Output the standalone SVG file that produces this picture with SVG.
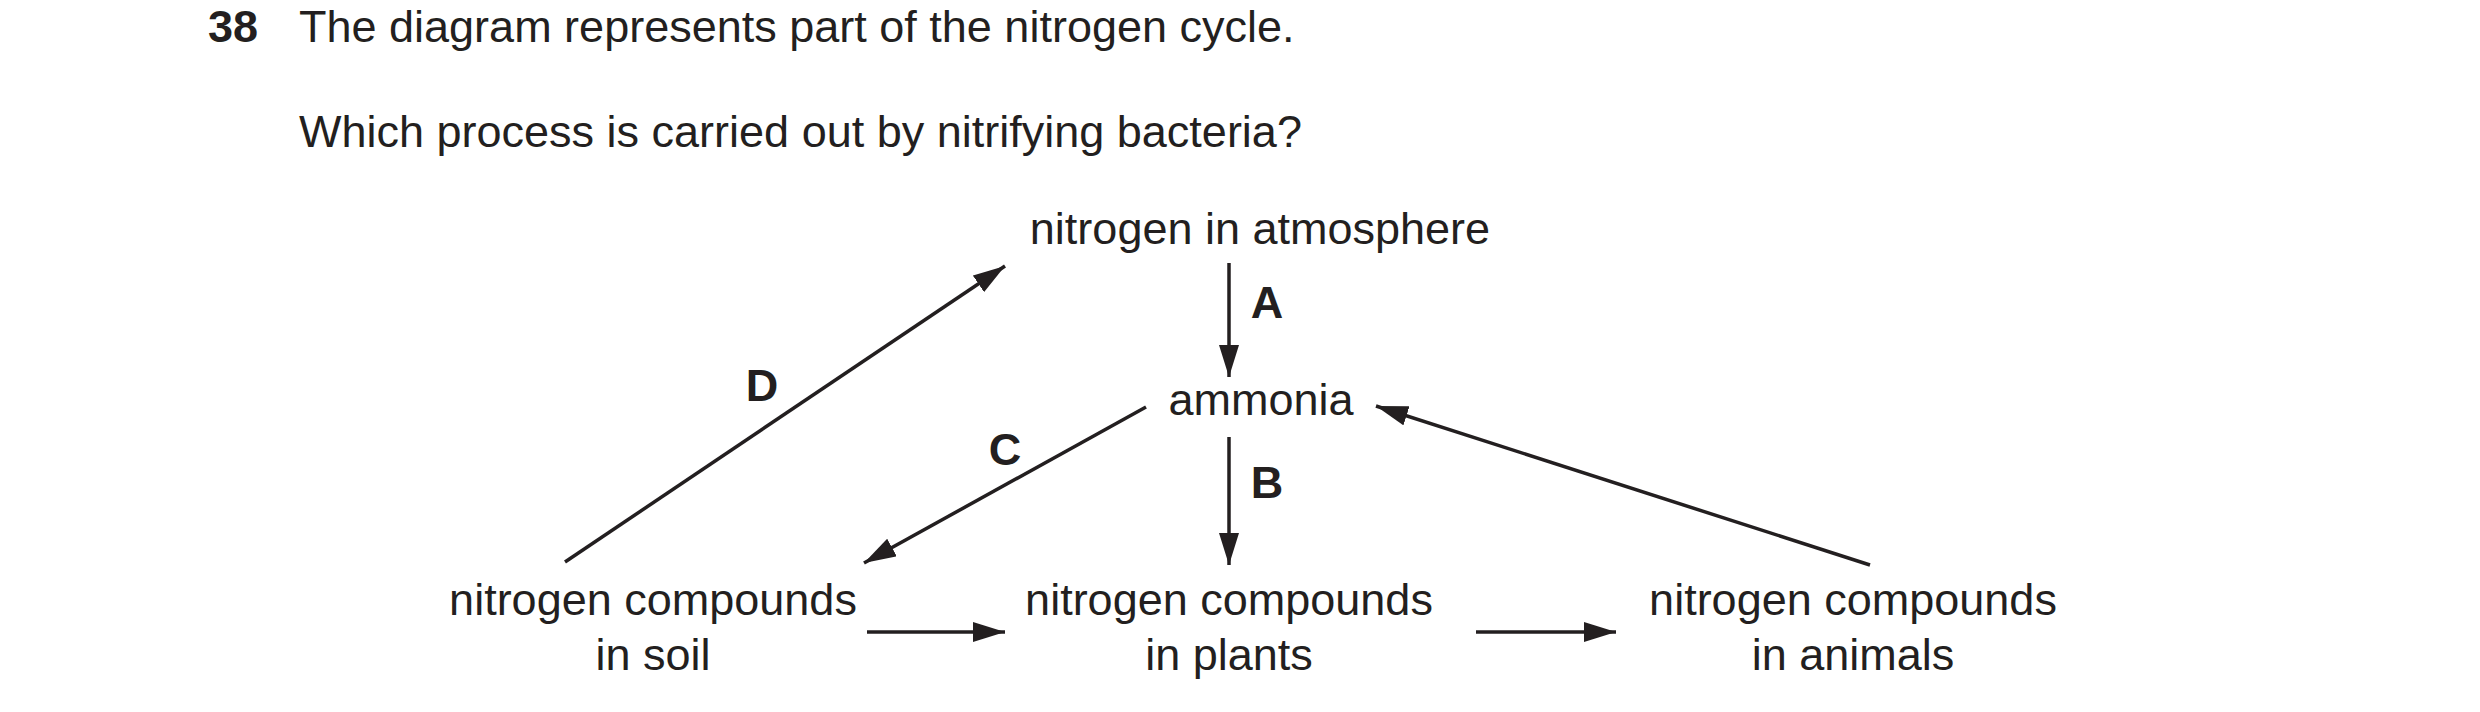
<svg xmlns="http://www.w3.org/2000/svg" width="2480" height="712" viewBox="0 0 2480 712">
<style>
text{font-family:"Liberation Sans",Arial,sans-serif;fill:#231f20;font-size:45px}
.c{text-anchor:middle}
.b{font-weight:bold}
.l{stroke:#231f20;stroke-width:3.5;fill:none}
</style>
<defs>
<marker id="ah" viewBox="0 0 10 10" refX="10" refY="5" markerWidth="9" markerHeight="9" markerUnits="userSpaceOnUse" orient="auto" overflow="visible">
<path d="M0,0 L10,5 L0,10 Z" fill="#231f20" transform="scale(3.2)"/>
</marker>
<marker id="ah2" viewBox="0 0 32 20" refX="32" refY="10" markerWidth="32" markerHeight="20" markerUnits="userSpaceOnUse" orient="auto">
<path d="M0,0 L32,10 L0,20 Z" fill="#231f20"/>
</marker>
</defs>
<text x="208" y="42" class="b">38</text>
<text x="299" y="42">The diagram represents part of the nitrogen cycle.</text>
<text x="299" y="147">Which process is carried out by nitrifying bacteria?</text>
<g id="atmosphere"><text x="1260" y="244" class="c">nitrogen in atmosphere</text></g>
<g id="ammonia"><text x="1261" y="415" class="c">ammonia</text></g>
<g id="soil"><text x="653" y="615" class="c">nitrogen compounds</text><text x="653" y="670" class="c">in soil</text></g>
<g id="plants"><text x="1229" y="615" class="c">nitrogen compounds</text><text x="1229" y="670" class="c">in plants</text></g>
<g id="animals"><text x="1853" y="615" class="c">nitrogen compounds</text><text x="1853" y="670" class="c">in animals</text></g>
<g id="connectors">
<line class="l" x1="1229" y1="263" x2="1229" y2="377" marker-end="url(#ah2)"/>
<line class="l" x1="1229" y1="437" x2="1229" y2="565" marker-end="url(#ah2)"/>
<line class="l" x1="1146" y1="407" x2="864" y2="563" marker-end="url(#ah2)"/>
<line class="l" x1="565" y1="562" x2="1005" y2="266" marker-end="url(#ah2)"/>
<line class="l" x1="1870" y1="565" x2="1376" y2="406" marker-end="url(#ah2)"/>
<line class="l" x1="867" y1="632" x2="1005" y2="632" marker-end="url(#ah2)"/>
<line class="l" x1="1476" y1="632" x2="1616" y2="632" marker-end="url(#ah2)"/>
<text x="1267" y="318" class="c b">A</text>
<text x="1267" y="498" class="c b">B</text>
<text x="1005" y="465" class="c b">C</text>
<text x="762" y="401" class="c b">D</text>
</g>
</svg>
